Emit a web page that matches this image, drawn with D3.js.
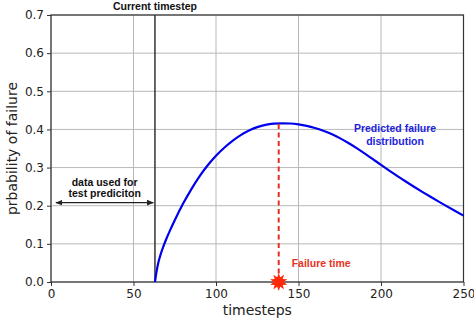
<!DOCTYPE html>
<html>
<head>
<meta charset="utf-8">
<script src="https://cdn.jsdelivr.net/npm/d3@7"></script>
<style>
  html, body { margin: 0; padding: 0; background: #fff; }
  svg { display: block; }
</style>
</head>
<body>
<div id="canvas"></div>
<script>
// predicted failure distribution
const timesteps = [63, 64, 65, 66, 68, 70, 72, 75, 80, 85, 90, 95, 100, 105, 110, 115, 120, 125, 130, 135, 140,
  145, 150, 155, 160, 165, 170, 175, 180, 185, 190, 195, 200, 205, 210, 215, 220, 225, 230, 235, 240, 245, 250];
const probability = [0, 0.028, 0.05, 0.066, 0.092, 0.114, 0.134, 0.162, 0.205, 0.243, 0.277, 0.306, 0.331,
  0.352, 0.37, 0.385, 0.397, 0.406, 0.412, 0.415, 0.416,
  0.4155, 0.4133, 0.4094, 0.4038, 0.3966, 0.3877, 0.3772, 0.365, 0.3517, 0.3373, 0.3223, 0.3071,
  0.2921, 0.2775, 0.2634, 0.2497, 0.2364, 0.2234, 0.2107, 0.1983, 0.1861, 0.1741];

const xTicks = [0, 50, 100, 150, 200, 250];
const yTicks = [0, 0.1, 0.2, 0.3, 0.4, 0.5, 0.6, 0.7];

const currentStep = 63;
const failureTime = 138;
const failurePeak = 0.416;
const arrowSpan = [3, 62];
const arrowLevel = 0.208;

(function() {
  const W = 474, H = 322;
  const margin = { top: 15, right: 10.5, bottom: 40, left: 51 };
  const iw = W - margin.left - margin.right;
  const ih = H - margin.top - margin.bottom;

  const svg = d3.select('#canvas').append('svg')
    .attr('width', W).attr('height', H);

  const x = d3.scaleLinear().domain([0, 250]).range([0, iw]);
  const y = d3.scaleLinear().domain([0, 0.7]).range([ih, 0]);

  const g = svg.append('g').attr('transform', `translate(${margin.left},${margin.top})`);

  // grid
  g.append('g').selectAll('line').data(xTicks).join('line')
    .attr('x1', d => x(d)).attr('x2', d => x(d))
    .attr('y1', 0).attr('y2', ih)
    .attr('stroke', '#b8b8b8').attr('stroke-width', 1);
  g.append('g').selectAll('line').data(yTicks).join('line')
    .attr('y1', d => y(d)).attr('y2', d => y(d))
    .attr('x1', 0).attr('x2', iw)
    .attr('stroke', '#b8b8b8').attr('stroke-width', 1);

  // axes
  const tickFont = '12px "DejaVu Sans", sans-serif';
  const xAxis = g.append('g').attr('transform', `translate(0,${ih})`)
    .call(d3.axisBottom(x).tickValues(xTicks).tickFormat(d3.format('d')).tickSizeInner(4).tickSizeOuter(0).tickPadding(3));
  const yAxis = g.append('g')
    .call(d3.axisLeft(y).tickValues(yTicks).tickFormat(d3.format('.1f')).tickSizeInner(4).tickSizeOuter(0).tickPadding(3));
  [xAxis, yAxis].forEach(a => {
    a.select('.domain').remove();
    a.selectAll('line').attr('stroke', '#333');
    a.selectAll('text').style('font', tickFont).attr('fill', '#222');
  });

  // frame
  g.append('rect').attr('width', iw).attr('height', ih)
    .attr('fill', 'none').attr('stroke', '#333').attr('stroke-width', 1.2);

  // axis titles
  svg.append('text')
    .attr('x', margin.left + iw / 2).attr('y', 315)
    .attr('text-anchor', 'middle')
    .style('font', '14px "DejaVu Sans", sans-serif').attr('fill', '#222')
    .text('timesteps');
  svg.append('text')
    .attr('transform', `translate(17,${margin.top + ih / 2}) rotate(-90)`)
    .attr('text-anchor', 'middle')
    .style('font', '14px "DejaVu Sans", sans-serif').attr('fill', '#222')
    .text('prbability of failure');

  // current timestep line
  g.append('line')
    .attr('x1', x(currentStep)).attr('x2', x(currentStep))
    .attr('y1', y(0)).attr('y2', y(0.7))
    .attr('stroke', '#333').attr('stroke-width', 1.5);
  svg.append('text')
    .attr('x', margin.left + x(currentStep)).attr('y', 10)
    .attr('text-anchor', 'middle')
    .style('font', 'bold 10.5px "Liberation Sans", Arial, sans-serif').attr('fill', '#111')
    .text('Current timestep');

  // double arrow
  const defs = svg.append('defs');
  defs.append('marker').attr('id', 'ah')
    .attr('viewBox', '0 0 10 10').attr('refX', 9).attr('refY', 5)
    .attr('markerWidth', 6).attr('markerHeight', 6).attr('orient', 'auto-start-reverse')
    .append('path').attr('d', 'M0,1L10,5L0,9Z').attr('fill', '#222');
  g.append('line')
    .attr('x1', x(arrowSpan[0])).attr('x2', x(arrowSpan[1]))
    .attr('y1', y(arrowLevel)).attr('y2', y(arrowLevel))
    .attr('stroke', '#222').attr('stroke-width', 1.2)
    .attr('marker-start', 'url(#ah)').attr('marker-end', 'url(#ah)');
  const noteFont = 'bold 10.5px "Liberation Sans", Arial, sans-serif';
  g.append('text')
    .attr('x', x((arrowSpan[0] + arrowSpan[1]) / 2)).attr('y', y(arrowLevel) - 17)
    .attr('text-anchor', 'middle').style('font', noteFont).attr('fill', '#111')
    .selectAll('tspan').data(['data used for', 'test prediciton']).join('tspan')
    .attr('x', x((arrowSpan[0] + arrowSpan[1]) / 2))
    .attr('dy', (d, i) => i ? 11.5 : 0)
    .text(d => d);

  // failure distribution
  const line = d3.line()
    .x((d, i) => x(timesteps[i]))
    .y(d => y(d))
    .curve(d3.curveMonotoneX);
  g.append('path').datum(probability)
    .attr('d', line)
    .attr('fill', 'none').attr('stroke', '#0000ee').attr('stroke-width', 2.2);
  g.append('text')
    .attr('x', x(208.5)).attr('y', y(failurePeak) + 9)
    .attr('text-anchor', 'middle').style('font', noteFont).attr('fill', '#2222dd')
    .selectAll('tspan').data(['Predicted failure', 'distribution']).join('tspan')
    .attr('x', x(208.5))
    .attr('dy', (d, i) => i ? 12.5 : 0)
    .text(d => d);

  // failure time
  g.append('line')
    .attr('x1', x(failureTime)).attr('x2', x(failureTime))
    .attr('y1', y(0)).attr('y2', y(failurePeak))
    .attr('stroke', '#e0301e').attr('stroke-width', 2)
    .attr('stroke-dasharray', '5,3.5');
  const star = d3.range(20).map(i => {
    const r = i % 2 ? 5 : 9;
    const a = i * Math.PI / 10 - Math.PI / 2;
    return [r * Math.cos(a), r * Math.sin(a)];
  });
  g.append('path')
    .attr('transform', `translate(${x(failureTime)},${y(0)})`)
    .attr('d', 'M' + star.join('L') + 'Z')
    .attr('fill', '#ff2a0a');
  g.append('text')
    .attr('x', x(failureTime) + 13).attr('y', y(0) - 15)
    .style('font', noteFont).attr('fill', '#e8341e')
    .text('Failure time');
})();
</script>
</body>
</html>
